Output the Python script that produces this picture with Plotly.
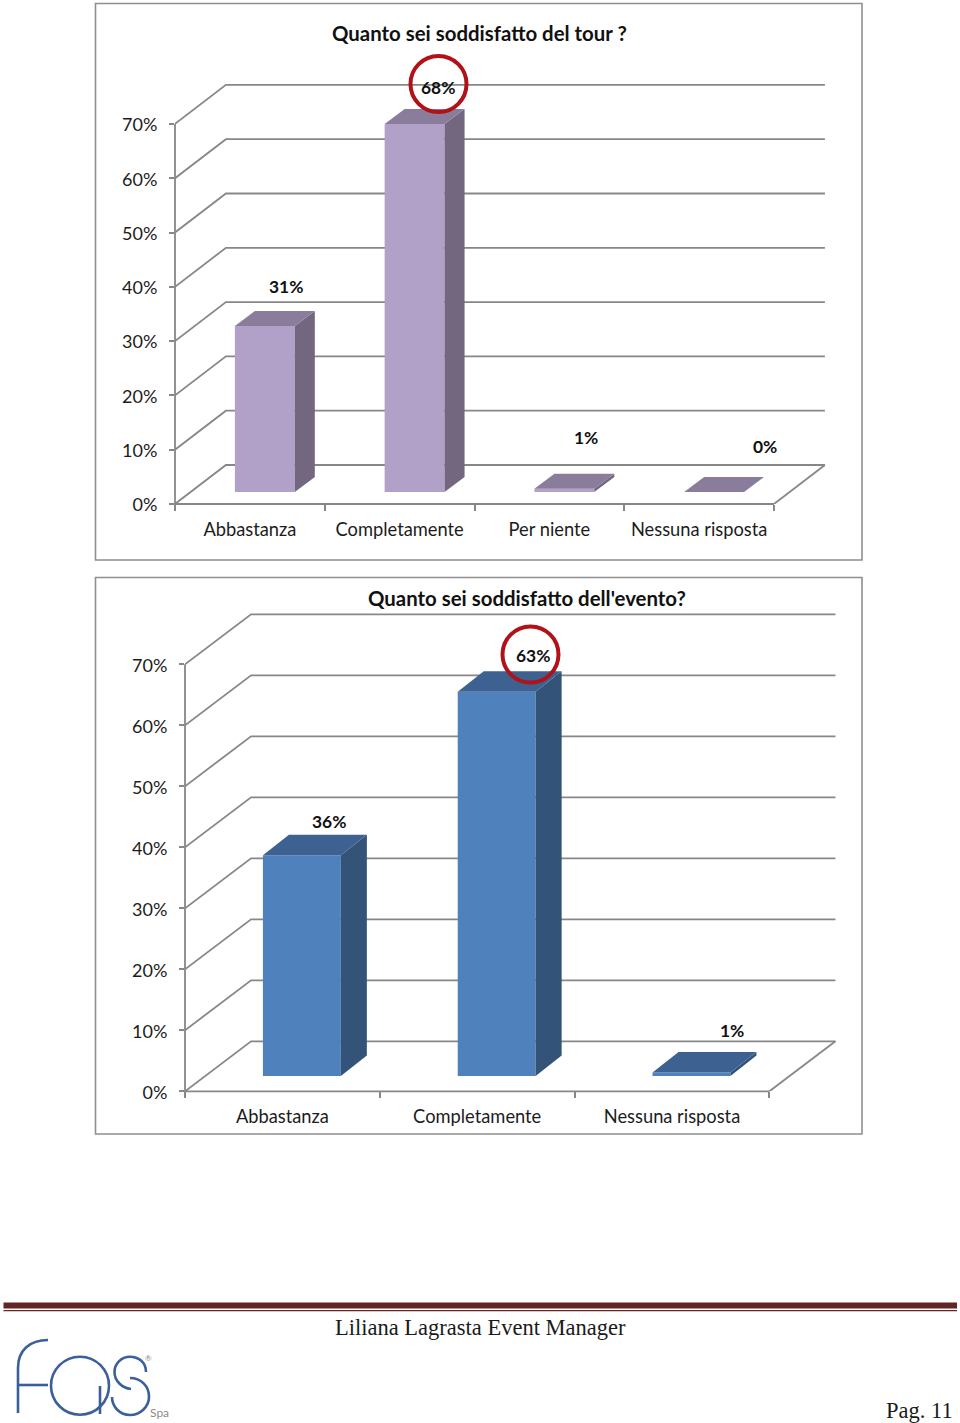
import plotly.graph_objects as go

WIDTH = 960
HEIGHT = 1423
FONT = "Lato"
SERIF = "Liberation Serif"
GRID = "#878787"
FRAME = "#8f8f8f"
RED = "#b01218"
LOGO = "#3b5f9a"

title_tour = "Quanto sei soddisfatto del tour ?"
categories_tour = ["Abbastanza", "Completamente", "Per niente", "Nessuna risposta"]
values_tour = [30.6, 67.8, 0.6, 0.0]

title_evento = "Quanto sei soddisfatto dell'evento?"
categories_evento = ["Abbastanza", "Completamente", "Nessuna risposta"]
values_evento = [36.2, 63.0, 0.6]

ticks_pct = [0, 10, 20, 30, 40, 50, 60, 70]

fig = go.Figure()
shapes = []
annotations = []


def add_chart(xa, ya, left, right, bottom, top, cat_px, pct_px, title, title_px, categories, values,
              wall, bar_depth, floor, colors, label_shift):
    # axes are placed in pixels, everything inside them is in category / percent units
    xname = "xaxis" + xa[1:]
    yname = "yaxis" + ya[1:]
    n = len(categories)
    fig.update_layout({
        xname: dict(
            domain=[left / WIDTH, right / WIDTH], range=[0, (right - left) / cat_px], anchor=ya,
            tickmode="array", tickvals=[i + 0.5 for i in range(n)], ticktext=categories,
            ticklen=0, ticks="outside", tickcolor="rgba(0,0,0,0)", showgrid=False, zeroline=False,
            tickfont=dict(family=FONT, size=18.3, color="#1c1c1c"), ticklabelstandoff=9,
            minor=dict(tickmode="array", tickvals=list(range(n + 1)), ticks="outside", ticklen=6,
                       tickcolor=GRID, tickwidth=1.5, showgrid=False),
        ),
        yname: dict(
            domain=[1 - bottom / HEIGHT, 1 - top / HEIGHT], range=[0, (bottom - top) / pct_px], anchor=xa,
            tickmode="array", tickvals=ticks_pct, ticktext=[f"{t}%" for t in ticks_pct],
            ticks="outside", ticklen=5, tickcolor=GRID, tickwidth=1.5, showgrid=False, zeroline=False,
            tickfont=dict(family=FONT, size=18, color="#1c1c1c"), ticklabelstandoff=8, ticklabelshift=1,
        ),
    })

    # back wall and floor
    line = dict(color=GRID, width=1.8)
    seg = dict(type="path", xref=xa, yref=ya, line=line, layer="below")
    for t in ticks_pct:
        shapes.append(dict(seg, path=f"M0,{t} L{wall[0]},{t + wall[1]} L{n + wall[0]},{t + wall[1]}"))
    shapes.append(dict(seg, path=f"M{n},0 L{n + wall[0]},{wall[1]}"))
    # the two axis lines sit on the subplot edge, so they go on the unclipped pixel axes
    corner = f"{left + n * cat_px},{bottom}"
    shapes.append(dict(type="path", xref="x3", yref="y3", line=line,
                       path=f"M{left},{bottom - ticks_pct[-1] * pct_px} L{left},{bottom} L{corner}"))

    centers = [i + 0.6 for i in range(n)]
    fig.add_trace(go.Bar(x=centers, y=values, base=[floor] * n, width=0.4, xaxis=xa, yaxis=ya,
                         marker=dict(color=colors[0], line=dict(width=0)), showlegend=False))
    for c, v in zip(centers, values):
        xl, xr = c - 0.2, c + 0.2
        y0, y1 = floor, floor + v
        dx, dy = bar_depth
        if v > 0:
            fig.add_trace(go.Scatter(x=[xr, xr + dx, xr + dx, xr, xr], y=[y0, y0 + dy, y1 + dy, y1, y0],
                                     mode="lines", fill="toself", fillcolor=colors[1], line=dict(width=0),
                                     xaxis=xa, yaxis=ya, showlegend=False))
        fig.add_trace(go.Scatter(x=[xl, xl + dx, xr + dx, xr, xl], y=[y1, y1 + dy, y1 + dy, y1, y1],
                                 mode="lines", fill="toself", fillcolor=colors[2], line=dict(width=0),
                                 xaxis=xa, yaxis=ya, showlegend=False))

    for c, v, (sx, sy) in zip(centers, values, label_shift):
        annotations.append(dict(x=c, y=floor + v + bar_depth[1], xref=xa, yref=ya, text=f"<b>{round(v)}%</b>",
                                showarrow=False, xshift=sx, yshift=sy,
                                font=dict(family=FONT, size=17.4, color="#111111")))
    annotations.append(dict(x=title_px[0] / WIDTH, y=1 - title_px[1] / HEIGHT, xref="paper", yref="paper",
                            xanchor="center", yanchor="middle", text=f"<b>{title}</b>", showarrow=False,
                            font=dict(family=FONT, size=20.4, color="#111111")))


add_chart("x", "y", 175, 826, 504, 80, 149.75, 5.43, title_tour, (479, 33), categories_tour, values_tour,
          wall=(0.34, 7.18), bar_depth=(0.1336, 2.76), floor=2.2,
          colors=("#b1a0c7", "#72677f", "#8a7d9c"),
          label_shift=[(21, 24), (23, 21), (22, 36), (51, 31)])

add_chart("x2", "y2", 185, 837, 1091.3, 610, 194.8, 6.1, title_evento, (527, 598), categories_evento, values_evento,
          wall=(0.339, 8.2), bar_depth=(0.1335, 3.36), floor=2.5,
          colors=("#4f81bd", "#335378", "#3d6291"),
          label_shift=[(27, 13), (36, 16), (41, 21)])

# page-level decoration lives on a hidden axis pair measured in pixels
fig.update_layout(
    xaxis3=dict(domain=[0, 1], range=[0, WIDTH], visible=False, anchor="y3", fixedrange=True),
    yaxis3=dict(domain=[0, 1], range=[HEIGHT, 0], visible=False, anchor="x3", fixedrange=True),
)
fig.add_trace(go.Scatter(x=[0], y=[0], mode="markers", marker=dict(opacity=0), xaxis="x3", yaxis="y3", showlegend=False))

deco = dict(xref="x3", yref="y3")
shapes.append(dict(deco, type="rect", x0=95.5, x1=862, y0=3.5, y1=560, line=dict(color=FRAME, width=1.6)))
shapes.append(dict(deco, type="rect", x0=95.5, x1=862, y0=577.5, y1=1134, line=dict(color=FRAME, width=1.6)))
shapes.append(dict(deco, type="circle", x0=410.5, x1=466.5, y0=56, y1=112, line=dict(color=RED, width=4)))
shapes.append(dict(deco, type="circle", x0=502.5, x1=558.5, y0=626.5, y1=682.5, line=dict(color=RED, width=4)))

shapes.append(dict(deco, type="rect", x0=3.5, x1=957, y0=1302.5, y1=1308.5, fillcolor="#632523", line=dict(width=0)))
shapes.append(dict(deco, type="rect", x0=3.5, x1=957, y0=1310, y1=1311.2, fillcolor="#632523", line=dict(width=0)))

logo = dict(deco, type="path", line=dict(color=LOGO, width=2.6))
shapes.append(dict(logo, path="M48,1340 C30,1340 18,1350 18,1368 L18,1413"))
shapes.append(dict(logo, path="M18,1385 L48,1385"))
shapes.append(dict(deco, type="circle", x0=51, x1=109, y0=1356.7, y1=1414.7, line=dict(color=LOGO, width=2.6)))
shapes.append(dict(logo, path="M100,1386 L100,1414"))
shapes.append(dict(logo, path="M146,1372 C146,1362 138,1356.7 130,1356.7 C121,1356.7 114.5,1364 114.5,1372 C114.5,1381 122,1388 131,1389"))
shapes.append(dict(logo, path="M130,1378 C141,1378 149,1386 149,1396.7 C149,1407 140,1415 130,1415 C120,1415 112,1407 112,1397"))

annotations.append(dict(x=480, y=1327, xref="x3", yref="y3", xanchor="center", yanchor="middle",
                        text="Liliana Lagrasta Event Manager", showarrow=False,
                        font=dict(family=SERIF, size=22.5, color="#1a1a1a")))
annotations.append(dict(x=955, y=1410, xref="x3", yref="y3", xanchor="right", yanchor="middle", text="Pag. 11", showarrow=False,
                        font=dict(family=SERIF, size=22.5, color="#1a1a1a")))
annotations.append(dict(x=159, y=1412, xref="x3", yref="y3", text="Spa", showarrow=False,
                        font=dict(family=FONT, size=12, color="#8a8a8a")))
annotations.append(dict(x=148.7, y=1357.5, xref="x3", yref="y3", text="®", showarrow=False,
                        font=dict(family=FONT, size=8, color="#8a8a8a")))

fig.update_layout(
    template="none",
    width=WIDTH, height=HEIGHT, margin=dict(l=0, r=0, t=0, b=0, pad=0, autoexpand=False),
    paper_bgcolor="white", plot_bgcolor="rgba(0,0,0,0)", showlegend=False,
    shapes=shapes, annotations=annotations,
)

fig.write_html("out.html", config={"displayModeBar": False}, post_script="document.body.style.margin='0';")
